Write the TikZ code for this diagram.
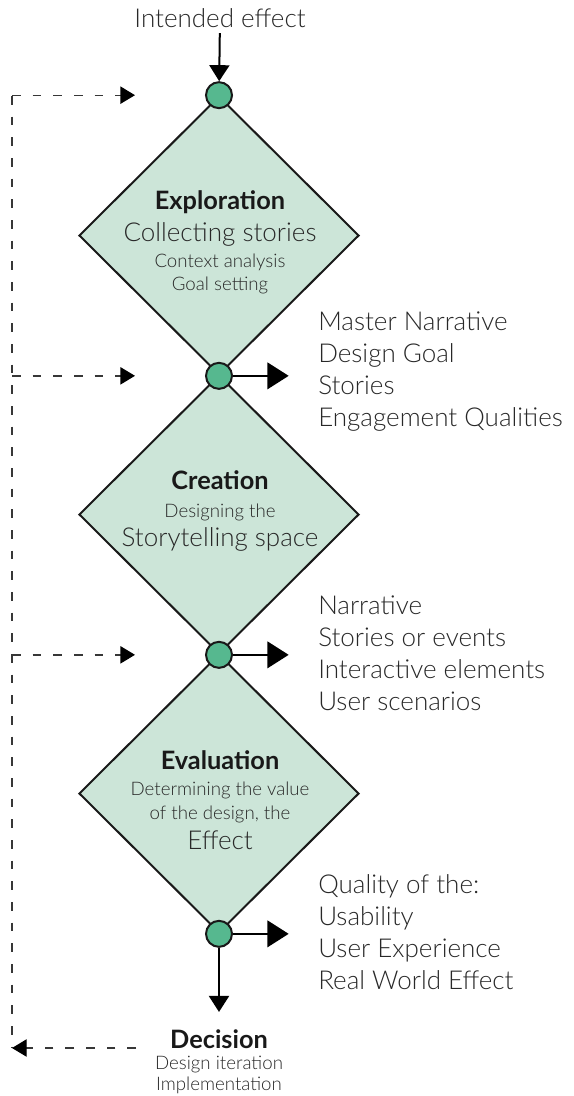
\documentclass[tikz,border=0pt]{standalone}
\usepackage{fontspec}
\setmainfont{Lato}[UprightFont=* Light,BoldFont=* Bold]
\usetikzlibrary{shapes.geometric,arrows.meta,positioning}
\usepackage{xcolor}
\definecolor{stagefill}{RGB}{204,229,216}
\definecolor{dotgreen}{RGB}{86,184,143}
\definecolor{textgray}{RGB}{40,40,40}
\definecolor{loopgray}{RGB}{55,55,55}

\tikzset{
  stage/.style={diamond,draw=black!90,line width=1.5pt,fill=stagefill,inner sep=0pt,minimum width=210pt,minimum height=209pt},
  dot/.style={circle,draw=black!90,line width=1.5pt,fill=dotgreen,inner sep=0pt,minimum size=19.5pt},
  title/.style={font=\fontsize{19}{22}\selectfont\bfseries,text=black!90,inner sep=0pt,anchor=mid},
  big/.style={font=\fontsize{19.5}{23}\selectfont,text=textgray,inner sep=0pt,anchor=mid},
  small/.style={font=\fontsize{14}{17}\selectfont,text=textgray,inner sep=0pt,anchor=mid},
  outlist/.style={font=\fontsize{19.5}{24}\selectfont,text=textgray,inner sep=0pt,anchor=west,align=left},
  flow/.style={line width=1.5pt,-{Triangle[length=12pt,width=15pt]}},
  result/.style={line width=1.5pt,-{Triangle[length=16pt,width=20pt]}},
  fb/.style={loopgray,line width=1pt,dash pattern=on 6.5pt off 9pt,-{Triangle[length=11pt,width=13pt,color=black]}},
}

\begin{document}
\begin{tikzpicture}[x=0.75pt,y=-0.75pt]
  \useasboundingbox (0,0) rectangle (574,1096);

  % the three stages
  \node[stage] (d1) at (219,235.5) {};
  \node[stage] (d2) at (219,514.5) {};
  \node[stage] (d3) at (219,793.5) {};

  \node[dot] (c1) at (d1.north) {};
  \node[dot] (c2) at (d1.south) {};
  \node[dot] (c3) at (d2.south) {};
  \node[dot] (c4) at (d3.south) {};

  \node[big] (intended) at (220,24) {Intended effect};
  \draw[flow,shorten <=4pt] (intended) -- (c1);

  % stage texts
  \node[title] (t1) at (220,206) {Exploration};
  \node[big] at (220,238) {Collecting stories};
  \node[small] at (220,264) {Context analysis};
  \node[small] at (220,287) {Goal setting};

  \node[title] (t2) at (220,486) {Creation};
  \node[small] at (220,514) {Designing the};
  \node[big] at (220,543) {Storytelling space};

  \node[title] (t3) at (220,766) {Evaluation};
  \node[small] at (220,792) {Determining the value};
  \node[small] at (220,816) {of the design, the};
  \node[big] at (220,846) {Effect};

  % outcomes of each stage
  \node[outlist] (o1) at (318,372) {Master Narrative\\Design Goal\\Stories\\Engagement Qualities};
  \node[outlist] (o2) at (318,653) {Narrative\\Stories or events\\Interactive elements\\User scenarios};
  \node[outlist] (o3) at (318,932) {Quality of the:\\Usability\\User Experience\\Real World Effect};

  \draw[result,shorten >=22pt] (c2) -- (c2 -| o1.west);
  \draw[result,shorten >=22pt] (c3) -- (c3 -| o2.west);
  \draw[result,shorten >=22pt] (c4) -- (c4 -| o3.west);

  % decision
  \node[title] (dec) at (219,1045) {Decision};
  \node[small] at (219,1066) {Design iteration};
  \node[small] at (219,1087) {Implementation};
  \draw[flow,shorten >=13pt] (c4) -- (dec);

  % iteration loop
  \coordinate (rail) at (12,96);
  \coordinate (railend) at (12,1048);
  \coordinate (tip) at (135,96);
  \coordinate (ret) at (136,1048);
  \draw[fb,-] (rail) -- (railend);
  \foreach \c in {c1,c2,c3}
    \draw[fb] (\c -| rail) -- (\c -| tip);
  \draw[fb] (ret) -- (railend);
\end{tikzpicture}
\end{document}
